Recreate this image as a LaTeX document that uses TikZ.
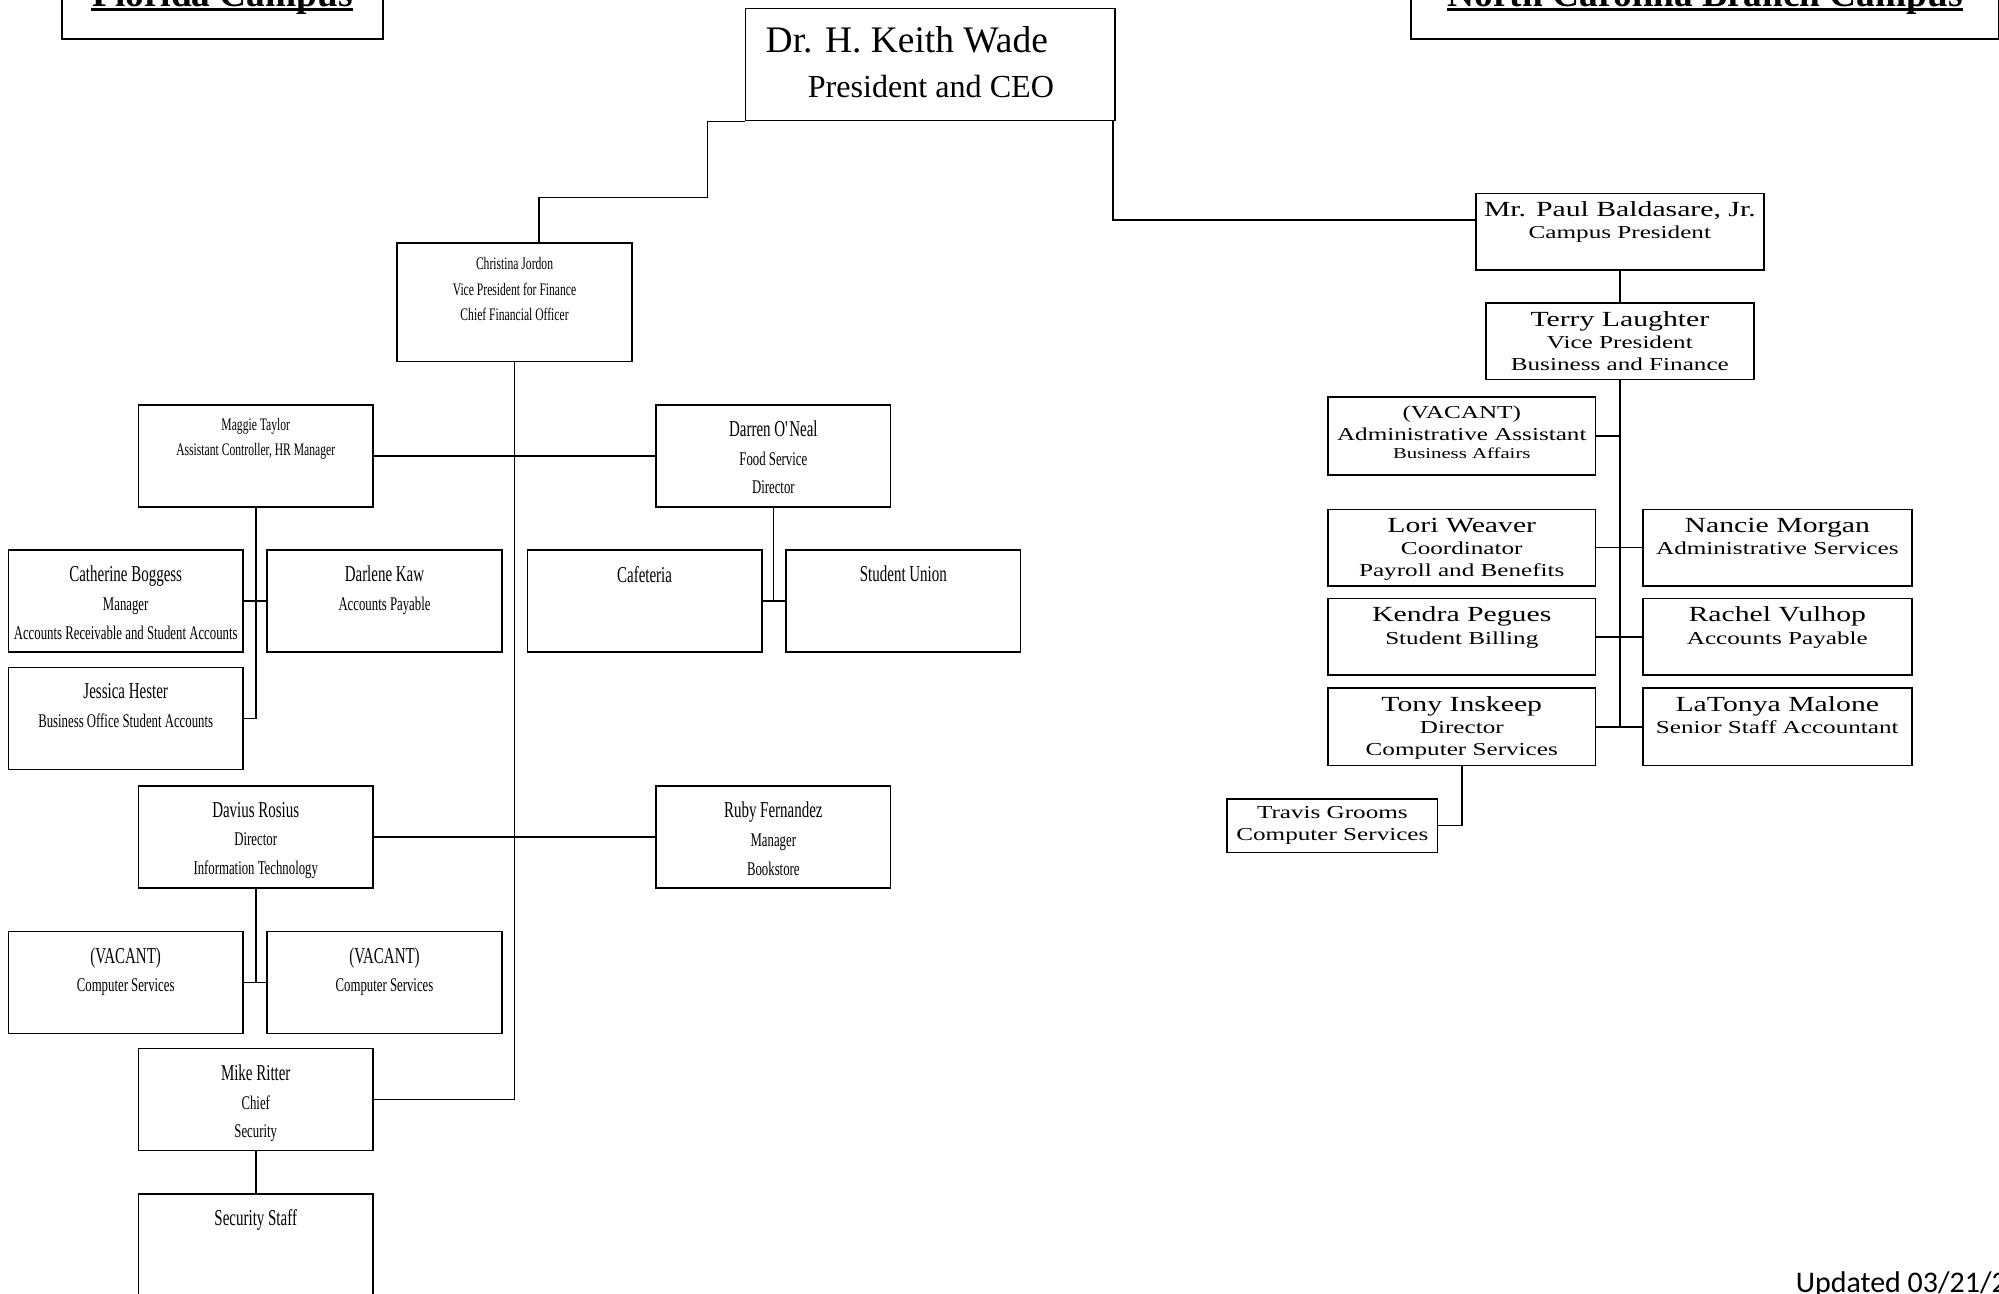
\documentclass[tikz,border=0pt]{standalone}
\usepackage{fontspec}
\setmainfont{Liberation Serif}
\newfontfamily\tallserif{Liberation Serif}[FakeStretch=0.66]
\newfontfamily\broadserif{Liberation Serif}[FakeStretch=1.38]
\newfontfamily\calibri{Carlito}
\newcommand{\fname}{\tallserif\fontsize{17.8}{22.5}\selectfont}
\newcommand{\fdetail}{\tallserif\fontsize{15.2}{22.5}\selectfont}
\newcommand{\fsmall}{\tallserif\fontsize{13.8}{20}\selectfont}
\newcommand{\bname}{\broadserif\fontsize{16.9}{17.5}\selectfont}
\newcommand{\bdetail}{\broadserif\fontsize{14.3}{17.5}\selectfont}
\newcommand{\bsmall}{\broadserif\fontsize{11.8}{14.5}\selectfont}
\usetikzlibrary{calc}
\tikzset{
  post/.style={draw, anchor=north west, inner sep=0pt, minimum width=184pt, minimum height=80pt},
  rpost/.style={post, minimum width=210pt, minimum height=60pt},
  campus/.style={draw, line width=1.5pt, anchor=south west, inner sep=0pt, minimum height=60pt},
  words/.style={anchor=north, inner sep=0pt,
    execute at begin node={\begin{minipage}[t]{#1}\centering},
    execute at end node={\end{minipage}}},
  words/.default=180pt,
  lwords/.style={words=180pt, yshift=-12.5pt},
  swords/.style={words=180pt, yshift=-11.5pt},
  rwords/.style={words=206pt, yshift=-6.5pt}
}

\begin{document}
\begin{tikzpicture}[x=1pt, y=-1pt, line width=1.2pt]
      \useasboundingbox (0,0) rectangle (1568,1015);
      %%%%%%%%%%%%%%%%%%%%%%%%%%%%%%%%%%%%%%%%%%%%%%%
      \node[campus, minimum width=252pt] at (48,31.5) (florida) {};
      \node[anchor=base, inner sep=0pt, font=\bfseries\fontsize{29.3}{30}\selectfont] at (174.5,5) (floridatxt) {Florida Campus};
      \draw[line width=2.6pt] ([yshift=-2.6pt]floridatxt.base west) -- ([yshift=-2.6pt]floridatxt.base east);
      \node[campus, minimum width=461pt] at (1106,31.5) (ncarolina) {};
      \node[anchor=base, inner sep=0pt, font=\bfseries\fontsize{29.3}{30}\selectfont] at (1337.5,5) (ncarolinatxt) {North Carolina Branch Campus};
      \draw[line width=2.6pt] ([yshift=-2.6pt]ncarolinatxt.base west) -- ([yshift=-2.6pt]ncarolinatxt.base east);
      %%%%%%%%%%%%%%%%%%%%%%%%%%%%%%%%%%%%%%%%%%%%%%%
      \node[post, minimum width=290pt, minimum height=88pt] at (584,6) (ceo) {};
      \node[anchor=north west, inner sep=0pt, xshift=16pt, yshift=-14pt] at (ceo.north west) (ceotxt)
           {\parbox[t]{280pt}{\raggedright\fontsize{29.4}{35.5}\selectfont Dr. H. Keith Wade\\\fontsize{25.2}{35.5}\selectfont\hspace*{33pt}President and CEO}};
      %%%%%%%%%%%%%%%%%%%%%%%%%%%%%%%%%%%%%%%%%%%%%%%
      \node[post, minimum height=93pt] at (311,190) (cfo) {};
      \node[swords] at (cfo.north) (cfotxt) {\fsmall Christina Jordon\par Vice President for Finance\par Chief Financial Officer\par};
      \node[post] at (108,317) (maggie) {};
      \node[swords, yshift=1pt] at (maggie.north) (maggietxt) {\fsmall Maggie Taylor\par Assistant Controller, HR Manager\par};
      \node[post] at (6,431) (catherine) {};
      \node[lwords] at (catherine.north) (catherinetxt) {\fname Catherine Boggess\par\fdetail Manager\par Accounts Receivable and Student Accounts\par};
      \node[post] at (209,431) (darlene) {};
      \node[lwords] at (darlene.north) (darlenetxt) {\fname Darlene Kaw\par\fdetail Accounts Payable\par};
      \node[post] at (6,523) (jessica) {};
      \node[lwords] at (jessica.north) (jessicatxt) {\fname Jessica Hester\par\fdetail Business Office Student Accounts\par};
      %%%%%%%%%%%%%%%%%%%%%%%%%%%%%%%%%%%%%%%%%%%%%%%
      \node[post] at (514,317) (darren) {};
      \node[lwords] at (darren.north) (darrentxt) {\fname Darren O\textquotesingle Neal\par\fdetail Food Service\par Director\par};
      \node[post] at (413,431) (cafeteria) {};
      \node[lwords] at (cafeteria.north) (cafeteriatxt) {\fname Cafeteria\par};
      \node[post] at (616,431) (studunion) {};
      \node[lwords] at (studunion.north) (studuniontxt) {\fname Student Union\par};
      %%%%%%%%%%%%%%%%%%%%%%%%%%%%%%%%%%%%%%%%%%%%%%%
      \node[post] at (108,616) (davius) {};
      \node[lwords] at (davius.north) (daviustxt) {\fname Davius Rosius\par\fdetail Director\par Information Technology\par};
      \node[post] at (514,616) (ruby) {};
      \node[lwords] at (ruby.north) (rubytxt) {\fname Ruby Fernandez\par\fdetail Manager\par Bookstore\par};
      \node[post] at (6,730) (vacantl) {};
      \node[lwords] at (vacantl.north) (vacantltxt) {\fname (VACANT)\par\fdetail Computer Services\par};
      \node[post] at (209,730) (vacantr) {};
      \node[lwords] at (vacantr.north) (vacantrtxt) {\fname (VACANT)\par\fdetail Computer Services\par};
      \node[post] at (108,822) (mike) {};
      \node[lwords] at (mike.north) (miketxt) {\fname Mike Ritter\par\fdetail Chief\par Security\par};
      \node[post, minimum height=120pt] at (108,936) (secstaff) {};
      \node[lwords] at (secstaff.north) (secstafftxt) {\fname Security Staff\par};
      %%%%%%%%%%%%%%%%%%%%%%%%%%%%%%%%%%%%%%%%%%%%%%%
      \coordinate (ceobend) at (555,155);
      \coordinate (cfoin) at ($(cfo.north)+(19,0)$);
      \draw (ceo.south west) -| (ceobend) -| (cfoin);
      \draw (cfo.south) |- (mike.east)
            (maggie.east) -- (darren.west)
            (davius.east) -- (ruby.west);
      \draw (maggie.south) |- (jessica.east)
            (catherine.east) -- (darlene.west)
            (darren.south) -- (darren.south |- cafeteria.east)
            (cafeteria.east) -- (studunion.west)
            (davius.south) -- (davius.south |- vacantl.east)
            (vacantl.east) -- (vacantr.west)
            (mike.south) -- (secstaff.north);
      %%%%%%%%%%%%%%%%%%%%%%%%%%%%%%%%%%%%%%%%%%%%%%%
      \node[rpost, minimum width=226pt] at (1157,151) (balda) {};
      \node[words=222pt, yshift=-6.5pt] at (balda.north) (baldatxt) {\bname Mr. Paul Baldasare, Jr.\par\bdetail Campus President\par};
      \node[rpost] at (1165,237) (terry) {};
      \node[rwords] at (terry.north) (terrytxt) {\bname Terry Laughter\par\bdetail Vice President\par Business and Finance\par};
      \node[rpost, minimum height=61pt] at (1041,311) (vacadmin) {};
      \node[rwords] at (vacadmin.north) (vacadmintxt) {\bdetail (VACANT)\par Administrative Assistant\par\bsmall Business Affairs\par};
      \node[rpost] at (1041,399) (weaver) {};
      \node[rwords] at (weaver.north) (weavertxt) {\bname Lori Weaver\par\bdetail Coordinator\par Payroll and Benefits\par};
      \node[rpost, minimum width=211pt] at (1288,399) (morgan) {};
      \node[rwords] at (morgan.north) (morgantxt) {\bname Nancie Morgan\par\bdetail Administrative Services\par};
      \node[rpost] at (1041,469) (pegues) {};
      \node[rwords] at (pegues.north) (peguestxt) {\bname Kendra Pegues\par\bdetail Student Billing\par};
      \node[rpost, minimum width=211pt] at (1288,469) (vulhop) {};
      \node[rwords] at (vulhop.north) (vulhoptxt) {\bname Rachel Vulhop\par\bdetail Accounts Payable\par};
      \node[rpost, minimum height=61pt] at (1041,539) (inskeep) {};
      \node[rwords] at (inskeep.north) (inskeeptxt) {\bname Tony Inskeep\par\bdetail Director\par Computer Services\par};
      \node[rpost, minimum width=211pt, minimum height=61pt] at (1288,539) (malone) {};
      \node[rwords] at (malone.north) (malonetxt) {\bname LaTonya Malone\par\bdetail Senior Staff Accountant\par};
      \node[rpost, minimum width=165pt, minimum height=42pt] at (962,626) (grooms) {};
      \node[words=161pt, yshift=-6pt] at (grooms.north) (groomstxt) {\bdetail Travis Grooms\par Computer Services\par};
      %%%%%%%%%%%%%%%%%%%%%%%%%%%%%%%%%%%%%%%%%%%%%%%
      \draw ([xshift=-2pt]ceo.south east) |- ([yshift=9pt]balda.west);
      \draw (balda.south) -- (terry.north)
            (terry.south) -- (terry.south |- malone.west)
            (vacadmin.east) -- (vacadmin.east -| terry.south)
            (weaver.east) -- (morgan.west)
            (pegues.east) -- (vulhop.west)
            (inskeep.east) -- (malone.west)
            (inskeep.south) |- (grooms.east);
      %%%%%%%%%%%%%%%%%%%%%%%%%%%%%%%%%%%%%%%%%%%%%%%
      \node[anchor=base west, inner sep=0pt, font=\calibri\fontsize{23.5}{24}\selectfont] at (1408,1014) (updated) {Updated 03/21/2};
\end{tikzpicture}
\end{document}
